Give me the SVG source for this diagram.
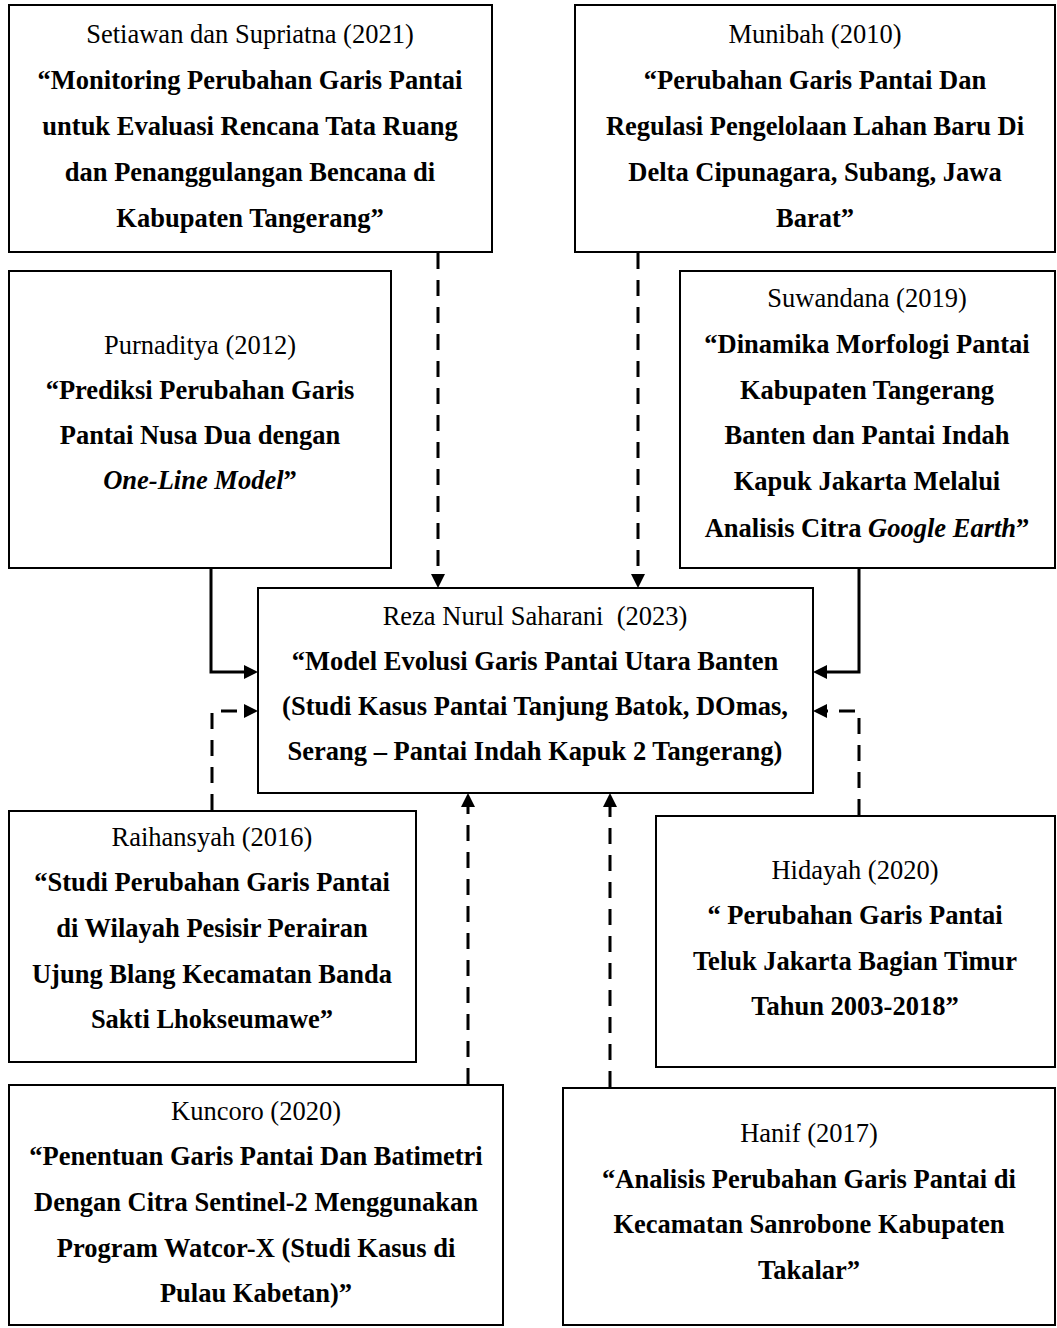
<svg xmlns="http://www.w3.org/2000/svg" width="1057" height="1328" viewBox="0 0 1057 1328">
<style>
.box{fill:#fff;stroke:#000;stroke-width:2}
text{font-family:"Liberation Serif","Times New Roman",serif;font-size:26.5px;text-anchor:middle;fill:#000}
.b{font-weight:bold}
.i{font-style:italic}
.con{fill:none;stroke:#000;stroke-width:3}
.dash{stroke-dasharray:16 11}
</style>
<defs>
<marker id="ah" viewBox="0 0 14 14" refX="2" refY="7" markerWidth="14" markerHeight="14" markerUnits="userSpaceOnUse" orient="auto">
<path d="M0,0 L14,7 L0,14 Z" fill="#000"/>
</marker>
</defs>
<rect width="1057" height="1328" fill="#fff"/>
<g id="connectors">
<path class="con dash" d="M438,253 V576" marker-end="url(#ah)"/>
<path class="con dash" d="M638,253 V576" marker-end="url(#ah)"/>
<path class="con dash" d="M468,1084 V805" marker-end="url(#ah)"/>
<path class="con dash" d="M610,1087 V805" marker-end="url(#ah)"/>
<path class="con" d="M211,569 V672 H246" marker-end="url(#ah)"/>
<path class="con" d="M859,569 V672 H825" marker-end="url(#ah)"/>
<path class="con dash" d="M212,810 V711 H246" marker-end="url(#ah)"/>
<path class="con dash" d="M859,815 V711 H825" marker-end="url(#ah)"/>
</g>
<g id="setiawan">
<rect class="box" x="9" y="5" width="483" height="247"/>
<text x="250" y="43">Setiawan dan Supriatna (2021)</text>
<text class="b" x="250" y="89">“Monitoring Perubahan Garis Pantai</text>
<text class="b" x="250" y="135">untuk Evaluasi Rencana Tata Ruang</text>
<text class="b" x="250" y="181">dan Penanggulangan Bencana di</text>
<text class="b" x="250" y="227">Kabupaten Tangerang”</text>
</g>
<g id="munibah">
<rect class="box" x="575" y="5" width="480" height="247"/>
<text x="815" y="43">Munibah (2010)</text>
<text class="b" x="815" y="89">“Perubahan Garis Pantai Dan</text>
<text class="b" x="815" y="135">Regulasi Pengelolaan Lahan Baru Di</text>
<text class="b" x="815" y="181">Delta Cipunagara, Subang, Jawa</text>
<text class="b" x="815" y="227">Barat”</text>
</g>
<g id="purnaditya">
<rect class="box" x="9" y="271" width="382" height="297"/>
<text x="200" y="354">Purnaditya (2012)</text>
<text class="b" x="200" y="399">“Prediksi Perubahan Garis</text>
<text class="b" x="200" y="444">Pantai Nusa Dua dengan</text>
<text class="b" x="200" y="489"><tspan class="i">One-Line Model</tspan>”</text>
</g>
<g id="suwandana">
<rect class="box" x="680" y="271" width="375" height="297"/>
<text x="867" y="307">Suwandana (2019)</text>
<text class="b" x="867" y="353">“Dinamika Morfologi Pantai</text>
<text class="b" x="867" y="399">Kabupaten Tangerang</text>
<text class="b" x="867" y="444">Banten dan Pantai Indah</text>
<text class="b" x="867" y="490">Kapuk Jakarta Melalui</text>
<text class="b" x="867" y="537">Analisis Citra <tspan class="i">Google Earth</tspan>”</text>
</g>
<g id="saharani">
<rect class="box" x="258" y="588" width="555" height="205"/>
<text x="535" y="625" xml:space="preserve">Reza Nurul Saharani  (2023)</text>
<text class="b" x="535" y="670">“Model Evolusi Garis Pantai Utara Banten</text>
<text class="b" x="535" y="715">(Studi Kasus Pantai Tanjung Batok, DOmas,</text>
<text class="b" x="535" y="760">Serang – Pantai Indah Kapuk 2 Tangerang)</text>
</g>
<g id="raihansyah">
<rect class="box" x="9" y="811" width="407" height="251"/>
<text x="212" y="846">Raihansyah (2016)</text>
<text class="b" x="212" y="891">“Studi Perubahan Garis Pantai</text>
<text class="b" x="212" y="937">di Wilayah Pesisir Perairan</text>
<text class="b" x="212" y="983">Ujung Blang Kecamatan Banda</text>
<text class="b" x="212" y="1028">Sakti Lhokseumawe”</text>
</g>
<g id="hidayah">
<rect class="box" x="656" y="816" width="399" height="251"/>
<text x="855" y="879">Hidayah (2020)</text>
<text class="b" x="855" y="924">“ Perubahan Garis Pantai</text>
<text class="b" x="855" y="970">Teluk Jakarta Bagian Timur</text>
<text class="b" x="855" y="1015">Tahun 2003-2018”</text>
</g>
<g id="kuncoro">
<rect class="box" x="9" y="1085" width="494" height="240"/>
<text x="256" y="1120">Kuncoro (2020)</text>
<text class="b" x="256" y="1165">“Penentuan Garis Pantai Dan Batimetri</text>
<text class="b" x="256" y="1211">Dengan Citra Sentinel-2 Menggunakan</text>
<text class="b" x="256" y="1257">Program Watcor-X (Studi Kasus di</text>
<text class="b" x="256" y="1302">Pulau Kabetan)”</text>
</g>
<g id="hanif">
<rect class="box" x="563" y="1088" width="492" height="237"/>
<text x="809" y="1142">Hanif (2017)</text>
<text class="b" x="809" y="1188">“Analisis Perubahan Garis Pantai di</text>
<text class="b" x="809" y="1233">Kecamatan Sanrobone Kabupaten</text>
<text class="b" x="809" y="1279">Takalar”</text>
</g>
</svg>
